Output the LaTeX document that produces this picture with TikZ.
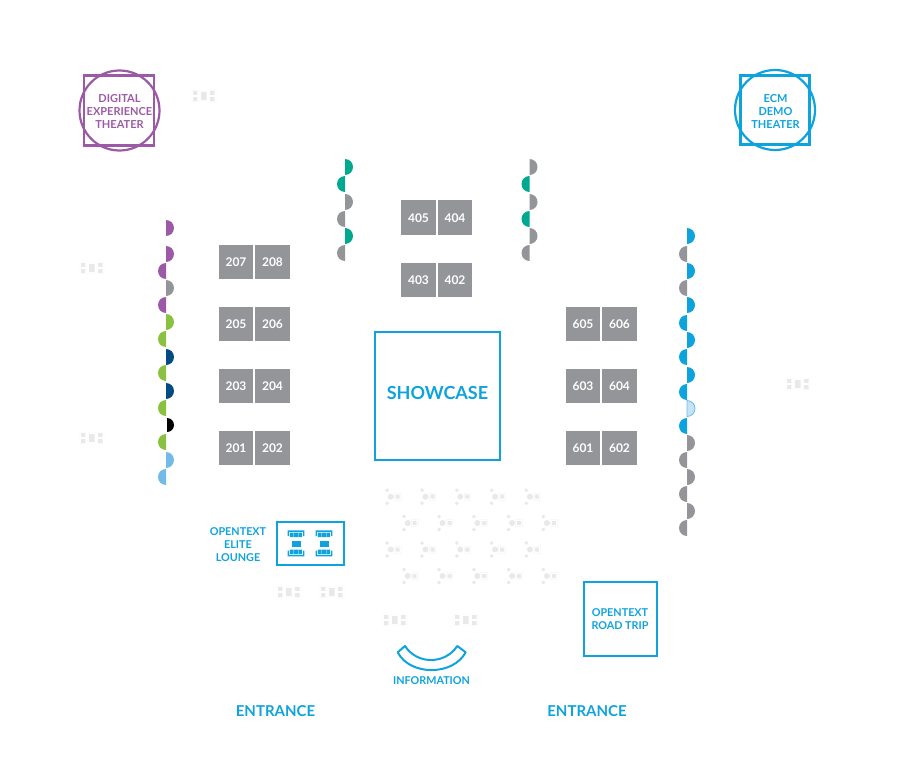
\documentclass[tikz,border=0pt]{standalone}
\usepackage{fontspec}
\setmainfont{Lato}
\definecolor{showblue}{HTML}{0FA3DE}
\definecolor{showpurple}{HTML}{9C5AA6}
\definecolor{showgrey}{HTML}{939598}
\definecolor{showteal}{HTML}{00A88F}
\definecolor{showgreen}{HTML}{8BC141}
\definecolor{shownavy}{HTML}{004B84}
\definecolor{showsky}{HTML}{72BBE8}
\definecolor{showpale}{HTML}{C4E3F6}
\definecolor{showfaint}{HTML}{E9E9EA}
\definecolor{showfainter}{HTML}{F8F8F8}
\tikzset{
    booth/.style={fill=showgrey, text=white, minimum size=34.5pt, inner sep=0pt, font=\fontsize{12}{12}\selectfont\bfseries},
    bluebox/.style={draw=showblue, line width=2.4pt, inner sep=0pt},
    bluetext/.style={text=showblue, align=center, inner sep=0pt, font=\fontsize{10.8}{13}\selectfont\bfseries},
    entrance/.style={text=showblue, inner sep=0pt, font=\fontsize{15}{15}\selectfont\bfseries},
    theater/.style={align=center, inner sep=0pt, font=\fontsize{11}{13}\selectfont\bfseries},
    tablegrp/.pic={
        \draw[showfainter, rounded corners=1pt] (-12.5,-5.5) rectangle (12.5,5.5);
        \fill[showfaint] (-11,-5) rectangle (-6.7,-1.2) (-11,1.2) rectangle (-6.7,5) (6.2,-5) rectangle (10.5,-1.2) (6.2,1.2) rectangle (10.5,5) (-3,-4) rectangle (2.7,4);
    },
    seatgrp/.pic={
        \draw[showfainter] (3.5,-3.5) rectangle (10,3.5);
        \fill[showfaint] (0,0) circle (3pt) (5,-2) rectangle (9,2);
        \fill[showfaint] (-5.5,-6.5) -- (-3.5,-8.5) -- (-1.5,-6.5) -- (-3.5,-4.5) -- cycle;
        \fill[showfaint] (-5.5,6.5) -- (-3.5,4.5) -- (-1.5,6.5) -- (-3.5,8.5) -- cycle;
    },
    sofatop/.pic={
        \fill[showblue] (-8.3,-3.7) rectangle (8.3,-2.2) (-8.3,-3.7) rectangle (-7,2) (7,-3.7) rectangle (8.3,2);
        \fill[showblue] (-6.2,-1.4) rectangle (-2.4,3) (-1.9,-1.4) rectangle (1.9,3) (2.4,-1.4) rectangle (6.2,3);
    },
    sofabot/.pic={
        \fill[showblue] (-8.3,3.7) rectangle (8.3,2.2) (-8.3,3.7) rectangle (-7,-2) (7,3.7) rectangle (8.3,-2);
        \fill[showblue] (-6.2,1.4) rectangle (-2.4,-3) (-1.9,1.4) rectangle (1.9,-3) (2.4,1.4) rectangle (6.2,-3);
    }
}
\begin{document}
\begin{tikzpicture}[x=1pt, y=-1pt]
    \useasboundingbox (0, 0) rectangle (900, 784);
    % theaters
    \node [draw=showpurple, line width=2.2pt, minimum size=70pt, inner sep=0pt] (digitalsquare) at (119, 110.5) {};
    \node [draw=showpurple, line width=2.2pt, circle, minimum size=80pt, inner sep=0pt] (digitalcircle) at (119.5, 110.5) {};
    \node [theater, text=showpurple] (digitaltext) at (119.5, 111.5) {DIGITAL\\EXPERIENCE\\THEATER};
    \node [draw=showblue, line width=2.2pt, minimum size=69pt, inner sep=0pt] (ecmsquare) at (775, 110) {};
    \node [draw=showblue, line width=2.2pt, circle, minimum size=80pt, inner sep=0pt] (ecmcircle) at (775, 110) {};
    \node [theater, text=showblue] (ecmtext) at (775.5, 111.5) {ECM\\DEMO\\THEATER};
    % half discs
    \foreach \yy/\side/\col in {228/1/showpurple, 254/1/showpurple, 271/-1/showpurple, 288/1/showgrey, 305/-1/showpurple, 322/1/showgreen, 339/-1/showgreen, 357/1/shownavy, 373/-1/showgreen, 391/1/shownavy, 408/-1/showgreen, 442/-1/showgreen, 460/1/showsky, 477/-1/showsky}
        \fill [\col] (166, \yy-8) arc [start angle=90, end angle={90-180*\side}, radius=8pt] -- cycle;
    \fill [black] (167, 418) arc [start angle=90, end angle=-90, radius=7pt] -- cycle;
    \foreach \yy/\side/\col in {236/1/showblue, 254/-1/showgrey, 271/1/showblue, 288/-1/showgrey, 305/1/showblue, 323/-1/showblue, 340/1/showblue, 357/-1/showblue, 375/1/showblue, 392/-1/showblue, 426/-1/showblue, 443/1/showgrey, 460/-1/showgrey, 477/1/showgrey, 494/-1/showgrey, 511/1/showgrey, 528/-1/showgrey}
        \fill [\col] (687, \yy-8) arc [start angle=90, end angle={90-180*\side}, radius=8pt] -- cycle;
    \filldraw [fill=showpale, draw=showsky, line width=0.8pt] (687, 400.5) arc [start angle=90, end angle=-90, radius=8pt] -- cycle;
    \foreach \yy/\side/\col in {167/1/showteal, 184/-1/showteal, 202/1/showgrey, 219/-1/showgrey, 236/1/showteal, 253/-1/showgrey}
        \fill [\col] (345, \yy-8) arc [start angle=90, end angle={90-180*\side}, radius=8pt] -- cycle;
    \foreach \yy/\side/\col in {167/1/showgrey, 184/-1/showteal, 202/1/showgrey, 219/-1/showteal, 236/1/showgrey, 253/-1/showgrey}
        \fill [\col] (529.5, \yy-8) arc [start angle=90, end angle={90-180*\side}, radius=8pt] -- cycle;
    % booths
    \foreach \num/\xx/\yy in {207/236/262, 208/272.5/262, 205/236/324, 206/272.5/324, 203/236/386, 204/272.5/386, 201/236/448, 202/272.5/448, 405/418.5/217.5, 404/455/217.5, 403/418.5/280, 402/455/280, 605/583/324, 606/619.5/324, 603/583/386, 604/619.5/386, 601/583/448, 602/619.5/448}
        \node [booth, text depth=0pt] (booth\num) at (\xx, \yy) {\raisebox{-0.6pt}{\num}};
    % showcase
    \node [bluebox, minimum width=125pt, minimum height=128pt] (showcase) at (437.5, 396) {};
    \node [text=showblue, inner sep=0pt, font=\fontsize{18}{18}\selectfont\bfseries] (showcasetext) at (437.5, 392.5) {SHOWCASE};
    % lounge
    \node [bluebox, minimum width=67.5pt, minimum height=42.5pt] (lounge) at (310.5, 543.5) {};
    \node [bluetext] (loungetext) at (238, 544.7) {OPENTEXT\\ELITE\\LOUNGE};
    \foreach \xx in {296, 324} {
        \pic at (\xx, 534) {sofatop};
        \fill [showblue] (\xx-4.5, 540.5) rectangle (\xx+4.5, 546.5);
        \pic at (\xx, 552.7) {sofabot};
    }
    % road trip
    \node [bluebox, minimum width=73pt, minimum height=74pt] (roadtrip) at (620.5, 619) {};
    \node [bluetext] (roadtriptext) at (620, 619.2) {OPENTEXT\\ROAD TRIP};
    % information
    \draw [showblue, line width=2pt, line join=round] (405, 646) .. controls (417, 664.7) and (445, 664.7) .. (457.3, 646) -- (465.7, 652.3) .. controls (453, 676) and (410, 676) .. (397.7, 652.3) -- cycle;
    \node [bluetext] (information) at (431.5, 680.5) {INFORMATION};
    \node [entrance] (entranceleft) at (275.5, 711) {ENTRANCE};
    \node [entrance] (entranceright) at (587, 711) {ENTRANCE};
    % faded tables and seats
    \foreach \xx/\yy in {204/96, 92/268, 92/438, 798/384, 289/592, 332/592, 395/620, 466/620}
        \pic at (\xx, \yy) {tablegrp};
    \foreach \ii in {0, 1, 2, 3, 4} {
        \pic at (390.7+34.8*\ii, 496.7) {seatgrp};
        \pic at (407.7+34.8*\ii, 523) {seatgrp};
        \pic at (390.7+34.8*\ii, 549.5) {seatgrp};
        \pic at (407.7+34.8*\ii, 576) {seatgrp};
    }
\end{tikzpicture}
\end{document}
